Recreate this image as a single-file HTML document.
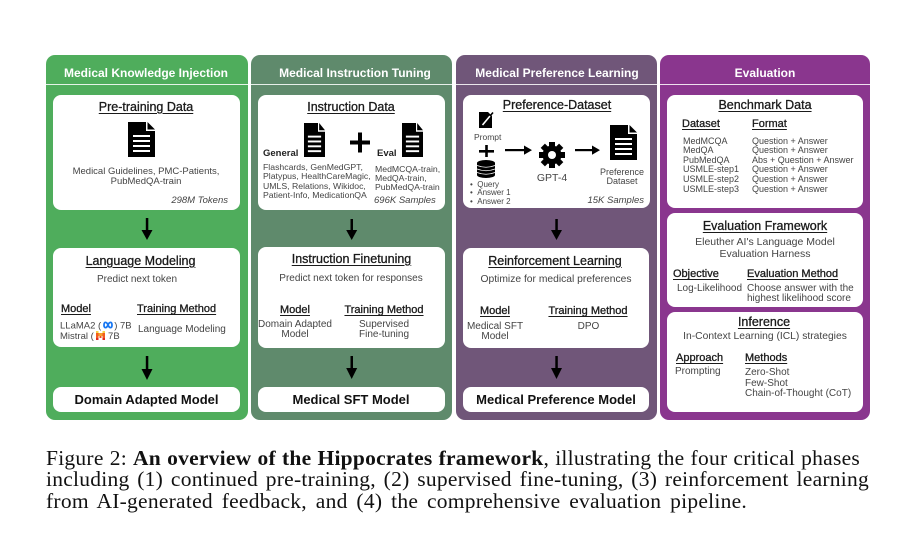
<!DOCTYPE html>
<html><head><meta charset="utf-8"><style>
html,body{margin:0;padding:0;background:#fff;}
body{width:915px;height:542px;position:relative;overflow:hidden;font-family:"Liberation Sans",Arial,sans-serif;}
.p{position:absolute;top:55px;height:365px;border-radius:9px;}
.w{position:absolute;background:#fff;border-radius:8px;}
.t{position:absolute;white-space:nowrap;line-height:1;}
.c{text-align:center;width:240px;}
.pt{color:#fff;font-weight:bold;font-size:12px;}
.h{font-size:12.5px;color:#1a1a1a;text-decoration:underline;-webkit-text-stroke:0.3px #1a1a1a;text-underline-offset:1.5px;text-decoration-thickness:1px;}
.s{font-size:11px;color:#1a1a1a;text-decoration:underline;-webkit-text-stroke:0.3px #1a1a1a;text-underline-offset:1.5px;text-decoration-thickness:1px;}
.b{font-size:9.5px;color:#444;}
.bb{font-size:13px;font-weight:bold;color:#111;}
.i{font-style:italic;}
.cap{position:absolute;left:46px;top:447.6px;font-family:"Liberation Serif","Times New Roman",serif;font-size:21.5px;line-height:21.7px;color:#111;letter-spacing:0.25px;}
.cap div{text-align:justify;text-align-last:justify;}
</style></head><body>

<!-- panels -->
<div class="p" style="left:46px;width:202px;background:#4fad5c;"></div>
<div class="p" style="left:251px;width:201px;background:#5f8a6c;"></div>
<div class="p" style="left:456px;width:201px;background:#705679;"></div>
<div class="p" style="left:660px;width:210px;background:#8a368e;"></div>
<div style="position:absolute;left:46px;top:84px;width:824px;height:1px;background:rgba(255,255,255,0.85);"></div>

<!-- white boxes -->
<div class="w" style="left:53px;top:95px;width:187px;height:115px;"></div>
<div class="w" style="left:53px;top:248px;width:187px;height:99px;"></div>
<div class="w" style="left:53px;top:387px;width:187px;height:25px;"></div>

<div class="w" style="left:258px;top:95px;width:187px;height:115px;"></div>
<div class="w" style="left:258px;top:247px;width:187px;height:101px;"></div>
<div class="w" style="left:258px;top:387px;width:187px;height:25px;"></div>

<div class="w" style="left:463px;top:95px;width:187px;height:113px;"></div>
<div class="w" style="left:463px;top:248px;width:186px;height:100px;"></div>
<div class="w" style="left:463px;top:387px;width:186px;height:25px;"></div>

<div class="w" style="left:667px;top:95px;width:196px;height:113px;"></div>
<div class="w" style="left:667px;top:213px;width:196px;height:94px;"></div>
<div class="w" style="left:667px;top:312px;width:196px;height:100px;"></div>

<!-- panel titles -->
<div class="t c pt" style="left:26px;top:66.8px;">Medical Knowledge Injection</div>
<div class="t c pt" style="left:235px;top:66.8px;">Medical Instruction Tuning</div>
<div class="t c pt" style="left:437px;top:66.8px;">Medical Preference Learning</div>
<div class="t c pt" style="left:645px;top:66.8px;">Evaluation</div>

<!-- Panel 1 -->
<div class="t c h" style="left:26px;top:100.5px;">Pre-training Data</div>
<div class="t c b" style="left:26px;top:167.1px;">Medical Guidelines, PMC-Patients,</div>
<div class="t c b" style="left:26px;top:177.1px;">PubMedQA-train</div>
<div class="t b i" style="left:128px;top:196.1px;width:100px;text-align:right;">298M Tokens</div>

<div class="t c h" style="left:20.5px;top:254.5px;">Language Modeling</div>
<div class="t c b" style="left:17px;top:274.8px;font-size:10px;">Predict next token</div>
<div class="t s" style="left:61px;top:304.3px;">Model</div>
<div class="t s" style="left:137px;top:304.3px;">Training Method</div>
<div class="t b" style="left:60px;top:321.1px;">LLaMA2 (<svg width="12" height="8" viewBox="0 0 12 8" style="vertical-align:-0.5px;margin:0 0 0 1px"><path d="M2,4 C2,0.5 4.5,0.5 6,4 C7.5,7.5 10,7.5 10,4 C10,0.5 7.5,0.5 6,4 C4.5,7.5 2,7.5 2,4Z" fill="none" stroke="#1877f2" stroke-width="1.8"/></svg>) 7B</div>
<div class="t b" style="left:60px;top:331.1px;">Mistral ( <svg width="9" height="9" viewBox="0 0 9 9" style="vertical-align:-1px"><rect x="0" y="0" width="2.5" height="9" fill="#f25c1e"/><rect x="6.5" y="0" width="2.5" height="9" fill="#f25c1e"/><rect x="2.5" y="2" width="2" height="3" fill="#f7a12a"/><rect x="4.5" y="2" width="2" height="3" fill="#f7a12a"/><rect x="0" y="0" width="2.5" height="2" fill="#f7d046"/><rect x="6.5" y="0" width="2.5" height="2" fill="#f7d046"/><rect x="3.5" y="5" width="2" height="2" fill="#ee4a23"/><rect x="0" y="7" width="2.5" height="2" fill="#e12a1f"/><rect x="6.5" y="7" width="2.5" height="2" fill="#e12a1f"/></svg> 7B</div>
<div class="t b" style="left:138px;top:324.8px;font-size:10px;">Language Modeling</div>
<div class="t c bb" style="left:26.5px;top:392.7px;">Domain Adapted Model</div>

<!-- Panel 2 -->
<div class="t c h" style="left:231px;top:100.5px;">Instruction Data</div>
<div class="t b" style="left:263px;top:149.1px;font-weight:bold;color:#222;">General</div>
<div class="t b" style="left:377px;top:149.1px;font-weight:bold;color:#222;">Eval</div>
<div class="t b" style="left:263px;top:162.5px;font-size:8.7px;">Flashcards, GenMedGPT,</div>
<div class="t b" style="left:263px;top:172px;font-size:8.7px;">Platypus, HealthCareMagic,</div>
<div class="t b" style="left:263px;top:181.5px;font-size:8.7px;">UMLS, Relations, Wikidoc,</div>
<div class="t b" style="left:263px;top:191px;font-size:8.7px;">Patient-Info, MedicationQA</div>
<div class="t b" style="left:375px;top:164.5px;font-size:8.7px;">MedMCQA-train,</div>
<div class="t b" style="left:375px;top:173.5px;font-size:8.7px;">MedQA-train,</div>
<div class="t b" style="left:375px;top:182.5px;font-size:8.7px;">PubMedQA-train</div>
<div class="t b i" style="left:374px;top:196.1px;">696K Samples</div>

<div class="t c h" style="left:231.5px;top:252.5px;">Instruction Finetuning</div>
<div class="t c b" style="left:231px;top:273.8px;font-size:10px;">Predict next token for responses</div>
<div class="t c s" style="left:175px;top:305.3px;">Model</div>
<div class="t c s" style="left:264px;top:305.3px;">Training Method</div>
<div class="t c b" style="left:175px;top:319.8px;font-size:10px;">Domain Adapted</div>
<div class="t c b" style="left:175px;top:329.8px;font-size:10px;">Model</div>
<div class="t c b" style="left:264px;top:319.8px;font-size:10px;">Supervised</div>
<div class="t c b" style="left:264px;top:329.8px;font-size:10px;">Fine-tuning</div>
<div class="t c bb" style="left:231px;top:392.7px;">Medical SFT Model</div>

<!-- Panel 3 -->
<div class="t c h" style="left:437px;top:98.5px;">Preference-Dataset</div>
<div class="t b" style="left:474px;top:132.6px;font-size:8.5px;">Prompt</div>
<div class="t b" style="left:470px;top:180.8px;font-size:8px;">•&nbsp;&nbsp;Query</div>
<div class="t b" style="left:470px;top:188.8px;font-size:8px;">•&nbsp;&nbsp;Answer 1</div>
<div class="t b" style="left:470px;top:197.8px;font-size:8px;">•&nbsp;&nbsp;Answer 2</div>
<div class="t c b" style="left:432px;top:172.5px;font-size:10.5px;">GPT-4</div>
<div class="t c b" style="left:502px;top:168.3px;font-size:9px;">Preference</div>
<div class="t c b" style="left:502px;top:177.3px;font-size:9px;">Dataset</div>
<div class="t b i" style="left:544px;top:196.1px;width:100px;text-align:right;">15K Samples</div>

<div class="t c h" style="left:435px;top:254.5px;">Reinforcement Learning</div>
<div class="t c b" style="left:436px;top:274.6px;font-size:10.3px;">Optimize for medical preferences</div>
<div class="t c s" style="left:375px;top:306.3px;">Model</div>
<div class="t c s" style="left:468px;top:306.3px;">Training Method</div>
<div class="t c b" style="left:375px;top:321.8px;font-size:10px;">Medical SFT</div>
<div class="t c b" style="left:375px;top:331.8px;font-size:10px;">Model</div>
<div class="t c b" style="left:468.5px;top:321.8px;font-size:10px;">DPO</div>
<div class="t c bb" style="left:436px;top:392.7px;">Medical Preference Model</div>

<!-- Panel 4 -->
<div class="t c h" style="left:645px;top:98.5px;">Benchmark Data</div>
<div class="t s" style="left:682px;top:119.3px;">Dataset</div>
<div class="t s" style="left:752px;top:119.3px;">Format</div>
<div class="t b" style="left:683px;top:137px;font-size:9px;">MedMCQA</div>
<div class="t b" style="left:683px;top:146.3px;font-size:9px;">MedQA</div>
<div class="t b" style="left:683px;top:156px;font-size:9px;">PubMedQA</div>
<div class="t b" style="left:683px;top:165.3px;font-size:9px;">USMLE-step1</div>
<div class="t b" style="left:683px;top:175.3px;font-size:9px;">USMLE-step2</div>
<div class="t b" style="left:683px;top:185.3px;font-size:9px;">USMLE-step3</div>
<div class="t b" style="left:752px;top:137px;font-size:9px;">Question + Answer</div>
<div class="t b" style="left:752px;top:146.3px;font-size:9px;">Question + Answer</div>
<div class="t b" style="left:752px;top:156px;font-size:9px;">Abs + Question + Answer</div>
<div class="t b" style="left:752px;top:165.3px;font-size:9px;">Question + Answer</div>
<div class="t b" style="left:752px;top:175.3px;font-size:9px;">Question + Answer</div>
<div class="t b" style="left:752px;top:185.3px;font-size:9px;">Question + Answer</div>

<div class="t c h" style="left:645px;top:219.5px;">Evaluation Framework</div>
<div class="t c b" style="left:645px;top:236.5px;font-size:10.5px;">Eleuther AI's Language Model</div>
<div class="t c b" style="left:645px;top:248.5px;font-size:10.5px;">Evaluation Harness</div>
<div class="t s" style="left:673px;top:269.3px;">Objective</div>
<div class="t s" style="left:747px;top:269.3px;">Evaluation Method</div>
<div class="t b" style="left:677px;top:283.8px;font-size:10px;">Log-Likelihood</div>
<div class="t b" style="left:747px;top:283.8px;font-size:10px;">Choose answer with the</div>
<div class="t b" style="left:747px;top:293.8px;font-size:10px;">highest likelihood score</div>

<div class="t c h" style="left:644px;top:315.5px;">Inference</div>
<div class="t c b" style="left:645px;top:331.6px;font-size:10.3px;">In-Context Learning (ICL) strategies</div>
<div class="t s" style="left:676px;top:353.3px;">Approach</div>
<div class="t s" style="left:745px;top:353.3px;">Methods</div>
<div class="t b" style="left:675px;top:366.8px;font-size:10px;">Prompting</div>
<div class="t b" style="left:745px;top:367.8px;font-size:10px;">Zero-Shot</div>
<div class="t b" style="left:745px;top:378.8px;font-size:10px;">Few-Shot</div>
<div class="t b" style="left:745px;top:388.8px;font-size:10px;">Chain-of-Thought (CoT)</div>

<!-- icons and arrows -->
<svg style="position:absolute;left:0;top:0;" width="915" height="542">
  <defs>
    <g id="doc">
      <path d="M0 0H18V9H27V35H0Z" fill="#000"/>
      <path d="M19.5 0L27 7.5H19.5Z" fill="#000"/>
      <rect x="5" y="13" width="17" height="2" fill="#fff"/>
      <rect x="5" y="18" width="17" height="2" fill="#fff"/>
      <rect x="5" y="23" width="17" height="2" fill="#fff"/>
      <rect x="5" y="28" width="17" height="2" fill="#fff"/>
    </g>
  </defs>
  <!-- docs -->
  <svg x="128" y="122" width="27" height="35" viewBox="0 0 27 35" preserveAspectRatio="none"><use href="#doc"/></svg>
  <svg x="304" y="123" width="21" height="34" viewBox="0 0 27 35" preserveAspectRatio="none"><use href="#doc"/></svg>
  <svg x="402" y="123" width="21" height="34" viewBox="0 0 27 35" preserveAspectRatio="none"><use href="#doc"/></svg>
  <svg x="610" y="125" width="27" height="35" viewBox="0 0 27 35" preserveAspectRatio="none"><use href="#doc"/></svg>
  <!-- big plus -->
  <rect x="350" y="140.5" width="20" height="4" fill="#000"/>
  <rect x="358" y="132.5" width="4" height="20" fill="#000"/>
  <!-- prompt icon -->
  <g transform="translate(479,112)">
    <path d="M0 0H9L13 4V16H0Z" fill="#000"/>
    <path d="M3.5 13 L11 4" stroke="#fff" stroke-width="1.6"/>
    <path d="M11 4 L14 0.5" stroke="#000" stroke-width="1.6"/>
  </g>
  <!-- small plus -->
  <rect x="479" y="150" width="15" height="2.6" fill="#000"/>
  <rect x="485.2" y="145" width="2.6" height="12" fill="#000"/>
  <!-- database -->
  <g transform="translate(477,160)">
    <rect x="0" y="3" width="18" height="12" fill="#000"/>
    <ellipse cx="9" cy="3" rx="9" ry="3" fill="#000"/>
    <ellipse cx="9" cy="15" rx="9" ry="3" fill="#000"/>
    <path d="M0 5.5 Q9 9 18 5.5" stroke="#fff" stroke-width="0.8" fill="none"/>
    <path d="M0 9 Q9 12.5 18 9" stroke="#fff" stroke-width="0.8" fill="none"/>
    <path d="M0 12.5 Q9 16 18 12.5" stroke="#fff" stroke-width="0.8" fill="none"/>
  </g>
  <!-- gear -->
  <g transform="translate(552,155)" fill="#000">
    <circle r="9.5"/>
    <rect x="-3" y="-13" width="6" height="6"/>
    <rect x="-3" y="-13" width="6" height="6" transform="rotate(45)"/>
    <rect x="-3" y="-13" width="6" height="6" transform="rotate(90)"/>
    <rect x="-3" y="-13" width="6" height="6" transform="rotate(135)"/>
    <rect x="-3" y="-13" width="6" height="6" transform="rotate(180)"/>
    <rect x="-3" y="-13" width="6" height="6" transform="rotate(225)"/>
    <rect x="-3" y="-13" width="6" height="6" transform="rotate(270)"/>
    <rect x="-3" y="-13" width="6" height="6" transform="rotate(315)"/>
    <circle r="4" fill="#fff"/>
  </g>
  <!-- horizontal arrows -->
  <rect x="505" y="149" width="20" height="2.2" fill="#000"/>
  <path d="M524 145.5 L532 150.1 L524 154.7Z" fill="#000"/>
  <rect x="575" y="149" width="18" height="2.2" fill="#000"/>
  <path d="M592 145.5 L600 150.1 L592 154.7Z" fill="#000"/>
  <!-- vertical arrows -->
  <g fill="#000">
    <rect x="145.8" y="218" width="2.5" height="13"/>
    <path d="M141.5 230 L152.5 230 L147 240Z"/>
    <rect x="145.8" y="356" width="2.5" height="14"/>
    <path d="M141.5 369 L152.5 369 L147 380Z"/>

    <rect x="350.5" y="219" width="2.5" height="12"/>
    <path d="M346.2 230 L357.2 230 L351.7 240Z"/>
    <rect x="350.5" y="356" width="2.5" height="13"/>
    <path d="M346.2 368 L357.2 368 L351.7 379Z"/>

    <rect x="555.3" y="219" width="2.5" height="12"/>
    <path d="M551 230 L562 230 L556.5 240Z"/>
    <rect x="555.3" y="356" width="2.5" height="13"/>
    <path d="M551 368 L562 368 L556.5 379Z"/>
  </g>
</svg>

<!-- caption -->
<div class="cap">
  <div style="width:814px;">Figure 2: <b>An overview of the Hippocrates framework</b>, illustrating the four critical phases</div>
  <div style="width:823px;">including (1) continued pre-training, (2) supervised fine-tuning, (3) reinforcement learning</div>
  <div style="width:701px;">from AI-generated feedback, and (4) the comprehensive evaluation pipeline.</div>
</div>

</body></html>
